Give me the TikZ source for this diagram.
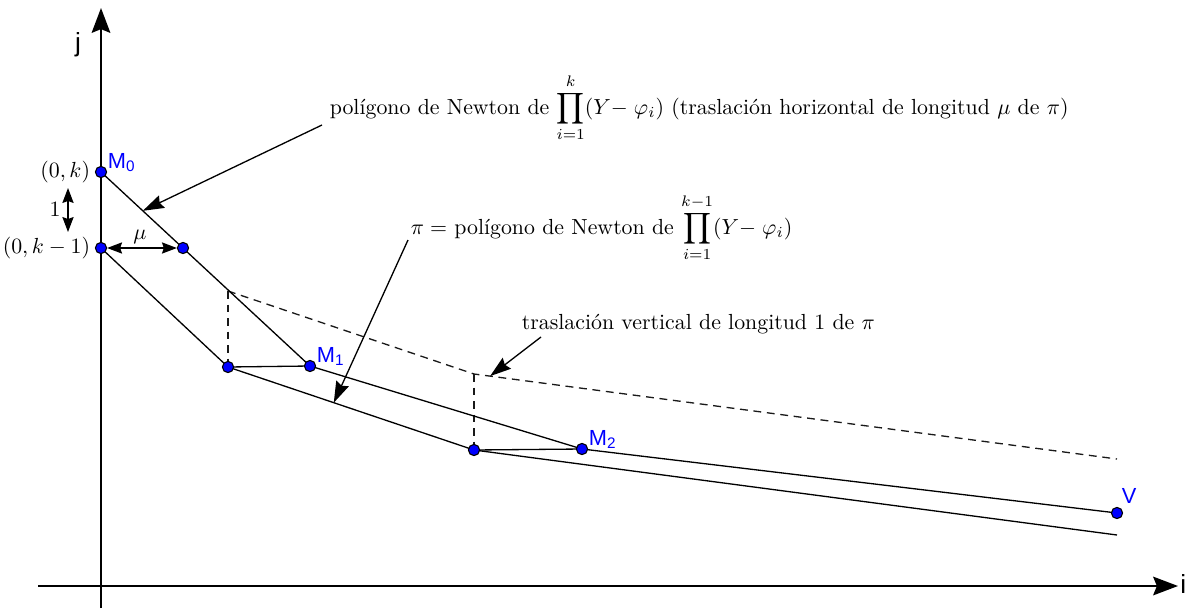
\documentclass[tikz,border=0pt]{standalone}
\usepackage{amsmath}
\usepackage{amssymb}
\usepackage{fontspec}
\newfontfamily\labelfont{Liberation Sans}
\usepackage{tikz}
\usetikzlibrary{arrows.meta, calc, positioning}
\definecolor{myblue}{rgb}{0, 0, 1}
\tikzstyle{dot} = [circle, fill=myblue, draw=black, line width=0.5pt, inner sep=0pt, minimum size=0.18cm]
\tikzstyle{lbl} = [text=myblue, font=\labelfont\normalsize, inner sep=1pt]
\tikzstyle{note} = [font=\normalsize, inner sep=2pt]
\tikzstyle{arrow} = [line width=0.6pt, -{Stealth[length=3.4mm,width=2.2mm,inset=0.4mm]}]
\tikzstyle{axis} = [line width=0.9pt, -{Stealth[length=4mm,width=3mm,inset=0.6mm]}]
\tikzstyle{small} = [line width=0.6pt, {Stealth[length=2.4mm,width=1.8mm,inset=0.3mm]}-{Stealth[length=2.4mm,width=1.8mm,inset=0.3mm]}]
\tikzstyle{poly} = [line width=0.6pt]
\tikzstyle{shifted} = [line width=0.6pt, dashed, dash pattern=on 3.6pt off 2.6pt, black!90]

\begin{document}
\begin{tikzpicture}[x=0.0161cm, y=-0.0161cm]
\useasboundingbox (0,0) rectangle (1187,610);

% axes
\coordinate (ybottom) at (101,608);
\coordinate (ytop) at (101,8);
\coordinate (xleft) at (38,586);
\coordinate (xright) at (1178,586);
\draw[axis] (ybottom) -- (ytop);
\draw[axis] (xleft) -- (xright);
\node[font=\labelfont\large] (jlabel) at (78,45) {j};
\node[font=\labelfont\large, anchor=west, inner sep=0pt] (ilabel) at (1180,584) {i};

% polygon points
\coordinate (piend) at (1117,535);
\coordinate (dashone) at (228,291);
\coordinate (dashtwo) at (474,374);
\coordinate (dashend) at (1117,459);

% dashed vertical translation of pi
\draw[shifted] (dashone) -- (dashtwo) -- (dashend);
\draw[shifted] (dashone) -- (228,367);
\draw[shifted] (dashtwo) -- (474,450);

% shifted polygon and pi
\draw[poly] (101,172) -- (310,366) -- (582,449) -- (1117,513);
\draw[poly] (101,248) -- (228,367) -- (474,450) -- (piend);
\draw[poly] (228,367) -- (310,366);
\draw[poly] (474,450) -- (582,449);

% vertices
\node[dot] (mzero) at (101,172) {};
\node[dot] (kone) at (101,248) {};
\node[dot] (kshift) at (183,248) {};
\node[dot] (pone) at (228,367) {};
\node[dot] (mone) at (310,366) {};
\node[dot] (ptwo) at (474,450) {};
\node[dot] (mtwo) at (582,449) {};
\node[dot] (vend) at (1117,513) {};

\node[lbl, above right=-3pt and 0pt of mzero] (mzerolabel) {M$_\text{0}$};
\node[lbl, above right=-3pt and 0pt of mone] (monelabel) {M$_\text{1}$};
\node[lbl, above right=-3pt and 0pt of mtwo] (mtwolabel) {M$_\text{2}$};
\node[lbl, above right=1pt and -1pt of vend] (vlabel) {V};

\node[left=0pt of mzero, inner sep=2pt] (kpoint) {$(0,k)$};
\node[left=0pt of kone, inner sep=2pt] (kminus) {$(0,k-1)$};

% unit and mu
\coordinate (onetop) at (68,188);
\coordinate (onebottom) at (68,232);
\draw[small] (onetop) -- (onebottom);
\node (onelabel) at (55,209) {$1$};
\draw[small] (kone) -- (kshift);
\node (mulabel) at (140,237) {$\mu$};

% annotations
\node[note, anchor=west] (horiztext) at (325,108)
{polígono de Newton de $\displaystyle\prod_{i=1}^{k}(Y{-}\;\varphi_i)$ (traslación horizontal de longitud $\mu$ de $\pi$)};
\node[note, anchor=west] (pitext) at (406,228)
{$\pi =$ polígono de Newton de $\displaystyle\prod_{i=1}^{k-1}(Y{-}\;\varphi_i)$};
\node[note, anchor=west] (verttext) at (517,324)
{traslación vertical de longitud 1 de $\pi$};

\coordinate (horizstart) at (322,125);
\coordinate (horiztip) at ($(mzero)!0.2!(mone)$);
\draw[arrow] (horizstart) -- (horiztip);
\coordinate (pistart) at (408,240);
\coordinate (pitip) at ($(pone)!0.43!(ptwo)$);
\draw[arrow] (pistart) -- (pitip);
\coordinate (vertstart) at (541,337);
\coordinate (verttip) at ($(dashtwo)!0.025!(dashend)$);
\draw[arrow] (vertstart) -- (verttip);
\end{tikzpicture}
\end{document}
